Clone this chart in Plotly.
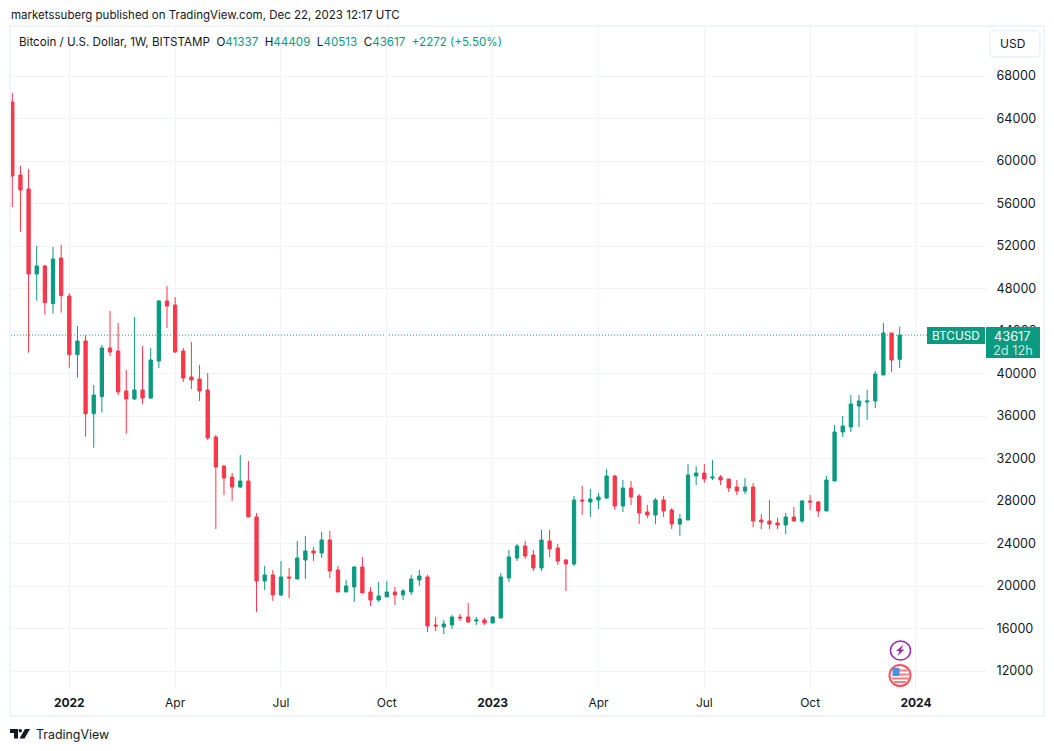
import plotly.graph_objects as go
import pandas as pd

# weekly BTCUSD candles
weeks = pd.date_range("2021-11-15", periods=110, freq="7D")
opens = [65554, 58684, 57366, 49367, 50120, 46573, 50872, 47294, 41773, 43059,
         36221, 37820, 42400, 42118, 38354, 37601, 38448, 37695, 41177, 46824,
         46447, 42118, 39671, 39483, 38448, 34024, 31295, 30260, 29319, 29884,
         26496, 20472, 21037, 19155, 20849, 20661, 22449, 23296, 23108, 24331,
         21508, 19437, 19908, 21790, 19437, 18684, 18966, 19437, 19155, 19437,
         20567, 20849, 16332, 16142, 16331, 17083, 17083, 16707, 16801, 16519,
         16989, 20754, 22636, 23765, 22918, 21695, 24236, 23577, 22448, 22071,
         28094, 27906, 28094, 28283, 30353, 27530, 29224, 28471, 26965, 26683,
         28094, 27153, 25835, 26212, 30353, 30635, 30165, 30259, 30071, 29317,
         28941, 29317, 26212, 26118, 25929, 25741, 26494, 26118, 27999, 27906,
         27059, 29884, 34495, 34966, 36942, 37319, 37413, 39860, 43812, 41337]
highs = [66401, 59531, 59248, 52002, 50214, 51908, 52096, 47545, 44471, 43592,
         38918, 42683, 45882, 44753, 40330, 45318, 42589, 42400, 46918, 48235,
         47200, 42400, 42965, 40800, 40048, 34212, 31330, 30636, 32330, 31766,
         26872, 21884, 21508, 22355, 21696, 24237, 24707, 23672, 25084, 25178,
         21884, 20567, 21884, 22731, 19908, 20378, 20472, 19908, 19719, 21037,
         21508, 21037, 17084, 16801, 17272, 17366, 18401, 17083, 16989, 17178,
         21224, 23389, 23953, 24236, 23389, 25271, 25271, 23953, 22542, 28471,
         29412, 29130, 28753, 31012, 30447, 29977, 29882, 28659, 27624, 28282,
         28471, 27341, 26777, 31482, 31294, 31482, 31859, 30447, 30071, 29976,
         30165, 29694, 26777, 28094, 26400, 26871, 27435, 28094, 28565, 27999,
         30353, 35154, 36001, 37978, 37978, 38448, 40236, 44753, 43812, 44409]
lows = [55672, 53319, 41961, 46855, 45537, 45632, 45726, 40550, 39608, 34056,
        33021, 36315, 41648, 37977, 34338, 37507, 37130, 37601, 40518, 44283,
        41930, 39201, 38542, 37413, 33742, 25366, 28566, 28001, 29225, 26496,
        17555, 19626, 18590, 19061, 18873, 20661, 20661, 22355, 22637, 20755,
        19437, 19437, 18496, 19343, 18120, 18496, 18966, 18214, 18684, 19155,
        20002, 15673, 15767, 15484, 15954, 16707, 16519, 16331, 16331, 16519,
        16989, 20377, 22354, 22542, 21413, 21413, 22730, 21977, 19530, 21883,
        26683, 26495, 27247, 28189, 27153, 26965, 27624, 25836, 26400, 25836,
        26494, 25365, 24706, 26212, 29506, 29694, 29976, 29506, 28847, 28565,
        28659, 25553, 25365, 25365, 25365, 24894, 26118, 25929, 27153, 26494,
        27059, 29884, 34025, 34495, 34966, 35625, 36754, 39860, 40142, 40513]
closes = [58589, 57272, 49367, 50120, 46667, 50778, 47325, 41773, 43059, 36221,
          37977, 42400, 42024, 38260, 37601, 38448, 37695, 41271, 46824, 46353,
          42024, 39577, 39389, 38354, 33930, 31201, 30166, 29319, 29884, 26496,
          20472, 21037, 19155, 20849, 20755, 22637, 23296, 23108, 24331, 21414,
          19437, 20002, 21790, 19343, 18684, 19061, 19437, 19155, 19531, 20661,
          20943, 16238, 16238, 16425, 17083, 16989, 16613, 16801, 16519, 17083,
          20848, 22730, 23765, 22824, 21695, 24330, 23483, 22354, 22071, 28094,
          28000, 28189, 28377, 30353, 27530, 29224, 28377, 26871, 26683, 28094,
          27059, 25835, 26306, 30447, 30635, 30071, 30259, 29976, 29223, 28941,
          29317, 26118, 26024, 25835, 25741, 26494, 26118, 27999, 27906, 27059,
          29976, 34495, 35060, 37131, 37413, 37413, 39954, 43812, 41271, 43617]

price_ticks = list(range(12000, 72000, 4000))
month_ticks = ["2022-01-03", "2022-04-04", "2022-07-04", "2022-10-03", "2023-01-02",
               "2023-04-03", "2023-07-03", "2023-10-02", "2024-01-01"]
month_labels = ["<b>2022</b>", "Apr", "Jul", "Oct", "<b>2023</b>", "Apr", "Jul", "Oct", "<b>2024</b>"]

GREEN = "#0a9a7f"
RED = "#f7374a"
GRID = "#f0f3fa"
INK = "#131722"
FONT = "Inter, Roboto, sans-serif"

# plot area in page pixels, chrome around it is placed with these
L, R, T, B = 11, 986, 27, 688


def xp(px):
    return (px - L) / (R - L)


def yp(py):
    return (B - py) / (B - T)


def note(px, py, text, size=11.5, color=INK, anchor="left", **kw):
    fig.add_annotation(xref="paper", yref="paper", x=xp(px), y=yp(py), text=text, showarrow=False,
                       xanchor=anchor, yanchor="middle", font=dict(family=FONT, size=size, color=color),
                       borderpad=0, **kw)


def box(x0, y0, x1, y1, **kw):
    fig.add_shape(type="rect", xref="paper", yref="paper", x0=xp(x0), x1=xp(x1), y0=yp(y0), y1=yp(y1), **kw)


def path(points, **kw):
    d = "M " + " L ".join(f"{xp(a):.5f},{yp(b):.5f}" for a, b in points) + " Z"
    fig.add_shape(type="path", xref="paper", yref="paper", path=d, **kw)


fig = go.Figure(go.Candlestick(
    x=weeks, open=opens, high=highs, low=lows, close=closes,
    increasing=dict(line=dict(color=GREEN, width=1), fillcolor=GREEN),
    decreasing=dict(line=dict(color=RED, width=1), fillcolor=RED),
    whiskerwidth=0, showlegend=False, hoverinfo="skip",
))

fig.update_layout(
    width=1054, height=751, autosize=False,
    margin=dict(l=L, r=1054 - R, t=T, b=751 - B),
    paper_bgcolor="white", plot_bgcolor="white",
    font=dict(family=FONT, size=12, color=INK),
    boxgap=0.42, showlegend=False,
)
fig.update_xaxes(
    type="date", range=["2021-11-13 21:00", "2024-03-01 05:00"],
    rangeslider_visible=False, tickmode="array", tickvals=month_ticks, ticktext=month_labels,
    showgrid=True, gridcolor=GRID, gridwidth=1, zeroline=False, showline=False,
    ticks="outside", ticklen=4, tickcolor="rgba(0,0,0,0)", tickfont=dict(size=12, color=INK),
)
fig.update_yaxes(
    side="right", range=[10400, 72612], tickmode="array", tickvals=price_ticks,
    ticktext=[str(v) for v in price_ticks],
    showgrid=True, gridcolor=GRID, gridwidth=1, zeroline=False, showline=False,
    ticks="outside", ticklen=7, tickcolor="rgba(0,0,0,0)", tickfont=dict(size=12.6, color=INK),
)

# last price line
fig.add_shape(type="line", xref="paper", yref="y", x0=0, x1=xp(927), y0=closes[-1], y1=closes[-1],
              line=dict(color=GREEN, width=1, dash="1px,2px"), layer="below")

# outer frame
box(10, 26, 1044, 716, line=dict(color=GRID, width=2), fillcolor="rgba(0,0,0,0)")

# price labels on the axis
box(927, 327, 985, 344, fillcolor=GREEN, line=dict(width=0))
box(986, 327, 1040, 358, fillcolor=GREEN, line=dict(width=0))
note(955.5, 336, "BTCUSD", size=11.8, color="white", anchor="center")
note(1012.5, 336, str(closes[-1]), size=12.8, color="white", anchor="center")
note(1013.5, 350, "2d 12h", size=12.8, color="#c4e6df", anchor="center")

# currency button, rounded corners
x0, x1, y0, y1, c = xp(990), xp(1040), yp(30.5), yp(57), 5 / (R - L)
cy = 5 / (B - T)
fig.add_shape(type="path", xref="paper", yref="paper",
              path=f"M {x0 + c},{y0} L {x1 - c},{y0} Q {x1},{y0} {x1},{y0 - cy} L {x1},{y1 + cy} "
                   f"Q {x1},{y1} {x1 - c},{y1} L {x0 + c},{y1} Q {x0},{y1} {x0},{y1 + cy} "
                   f"L {x0},{y0 - cy} Q {x0},{y0} {x0 + c},{y0} Z",
              line=dict(color=GRID, width=2), fillcolor="white")
note(1012, 43.5, "USD", size=12, anchor="center")

# header texts
note(10, 15, "marketssuberg published on TradingView.com, Dec 22, 2023 12:17 UTC")
g = f'<span style="color:{GREEN}">'
note(18, 42, f"Bitcoin / U.S. Dollar, 1W, BITSTAMP  O{g}{opens[-1]}</span>  H{g}{highs[-1]}</span>"
             f"  L{g}{lows[-1]}</span>  C{g}{closes[-1]}</span>  {g}+2272 (+5.50%)</span>", size=11.6)

# events near the last bar
fig.add_shape(type="circle", xref="paper", yref="paper", x0=xp(890.5), x1=xp(910.5), y0=yp(641), y1=yp(660),
              line=dict(color="#9c27b0", width=1.5), fillcolor="white")
path([(903.5, 644.5), (896, 651), (899.5, 651), (897.5, 656), (904.5, 649.5), (901, 649.5)],
     fillcolor="#9c27b0", line=dict(width=0))
fig.add_shape(type="circle", xref="paper", yref="paper", x0=xp(889.5), x1=xp(910.5), y0=yp(665), y1=yp(686),
              line=dict(color="#f7525f", width=2), fillcolor="white")
box(899, 669.5, 907.5, 671.5, fillcolor="#f77c80", line=dict(width=0))
box(899, 673.5, 909, 675.5, fillcolor="#f77c80", line=dict(width=0))
box(892, 677.5, 909, 679.5, fillcolor="#f77c80", line=dict(width=0))
box(894, 681, 906, 683, fillcolor="#f77c80", line=dict(width=0))
box(892.5, 668, 899.5, 676, fillcolor="#4a90e2", line=dict(width=0))

# logo
path([(10, 729), (18, 729), (18, 738.5), (14, 738.5), (14, 733), (10, 733)], fillcolor=INK, line=dict(width=0))
fig.add_shape(type="circle", xref="paper", yref="paper", x0=xp(18.5), x1=xp(22), y0=yp(729), y1=yp(732.5),
              fillcolor=INK, line=dict(width=0))
path([(25, 729), (30, 729), (24.5, 738.5), (19.5, 738.5)], fillcolor=INK, line=dict(width=0))
note(35, 734, "TradingView", size=12.4)

fig.write_html("out.html", config=dict(displayModeBar=False), post_script="document.body.style.margin='0';")
